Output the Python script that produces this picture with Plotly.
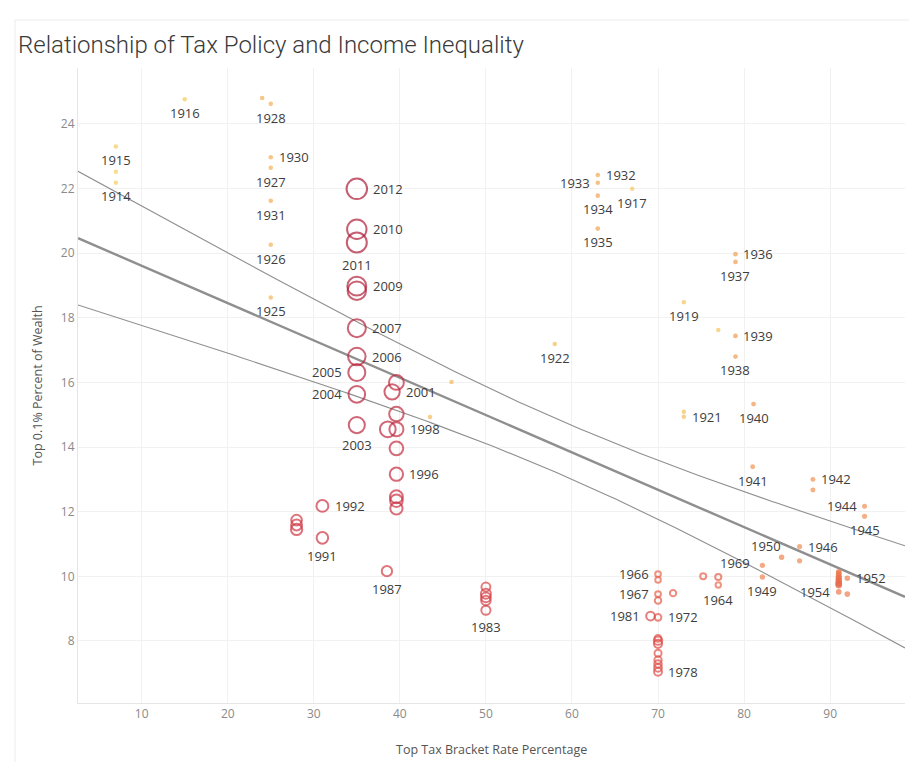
import numpy as np
import plotly.graph_objects as go

# ---------------- data ----------------
years = list(range(1913, 2013))

top_rate = [
    7, 7, 7, 15, 67, 77, 73, 73, 73, 58,            # 1913-1922
    43.5, 46, 25, 25, 25, 25, 24, 25, 25, 63,        # 1923-1932
    63, 63, 63, 79, 79, 79, 79, 81.1, 81, 88,        # 1933-1942
    88, 94, 94, 86.45, 86.45, 82.13, 82.13, 84.36, 91, 92,  # 1943-1952
    92, 91, 91, 91, 91, 91, 91, 91, 91, 91,          # 1953-1962
    91, 77, 70, 70, 70, 75.25, 77, 71.75, 70, 70,    # 1963-1972
    70, 70, 70, 70, 70, 70, 70, 70, 69.13, 50,       # 1973-1982
    50, 50, 50, 50, 38.5, 28, 28, 28, 31, 31,        # 1983-1992
    39.6, 39.6, 39.6, 39.6, 39.6, 39.6, 39.6, 39.6, 39.1, 38.6,  # 1993-2002
    35, 35, 35, 35, 35, 35, 35, 35, 35, 35,          # 2003-2012
]

wealth_share = [
    22.52, 22.18, 23.30, 24.76, 21.99, 17.62, 18.48, 15.09, 14.94, 17.19,  # 1913-1922
    14.93, 16.01, 18.63, 20.26, 22.64, 24.62, 24.80, 22.97, 21.62, 22.42,  # 1923-1932
    22.18, 21.78, 20.76, 19.97, 19.73, 16.80, 17.44, 15.33, 13.39, 13.00,  # 1933-1942
    12.67, 12.17, 11.86, 10.92, 10.48, 10.34, 9.98, 10.59, 10.14, 9.94,    # 1943-1952
    9.45, 9.52, 10.05, 10.10, 9.98, 9.90, 9.95, 9.85, 9.80, 9.76,          # 1953-1962
    9.73, 9.73, 9.89, 10.07, 9.45, 10.00, 9.98, 9.48, 9.25, 8.73,          # 1963-1972
    8.08, 7.62, 7.41, 7.29, 7.17, 7.05, 7.91, 8.01, 8.77, 9.67,            # 1973-1982
    8.95, 9.25, 9.35, 9.46, 10.16, 11.74, 11.59, 11.45, 11.19, 12.18,      # 1983-1992
    12.10, 12.34, 12.46, 13.16, 13.96, 14.55, 15.02, 16.00, 15.71, 14.55,  # 1993-2002
    14.68, 15.63, 16.31, 16.80, 17.68, 18.84, 18.98, 20.74, 20.33, 21.99,  # 2003-2012
]

label_below = [1914, 1915, 1916, 1917, 1919, 1922, 1925, 1926, 1927, 1928, 1931,
               1934, 1935, 1937, 1938, 1940, 1941, 1945, 1949, 1964, 1983, 1987,
               1991, 2003, 2011]
label_right = [1921, 1930, 1932, 1936, 1939, 1942, 1946, 1952, 1972, 1978, 1992,
               1996, 1998, 2001, 2006, 2007, 2009, 2010, 2012]
label_left = [1933, 1944, 1954, 1966, 1967, 1981, 2004, 2005]
label_top_left = [1950]
label_top_right = [1969]

title_text = "Relationship of Tax Policy and Income Inequality"
x_title = "Top Tax Bracket Rate Percentage"
y_title = "Top 0.1% Percent of Wealth"
x_ticks = [10, 20, 30, 40, 50, 60, 70, 80, 90]
y_ticks = [8, 10, 12, 14, 16, 18, 20, 22, 24]
open_from_year = 1964

# ---------------- styling helpers ----------------
W, H = 909, 762
ML, MR, MT, MB = 78, 4, 68, 59
X_RANGE = [2.6, 98.7]
Y_RANGE = [6.08, 25.73]

colorscale = [
    [0.0, "#f6cf5e"], [0.18, "#f2aa55"], [0.38, "#ef8250"],
    [0.55, "#e6604a"], [0.70, "#d84446"], [0.82, "#c92f40"], [1.0, "#ab1b36"],
]

y0, y1 = years[0], years[-1]
def size_for(y):
    t = (y - y0) / (y1 - y0)
    return 4.5 + 17.5 * t ** 3

def label_annotation(yr, xv, yv):
    r = size_for(yr) / 2.0
    base = dict(x=xv, y=yv, xref="x", yref="y", text=str(yr), showarrow=False,
                font=dict(family="Open Sans", size=13, color="#3d3d3d"))
    if yr in label_below:
        base.update(xanchor="center", yanchor="middle", yshift=-(r + 11.5))
    elif yr in label_right:
        base.update(xanchor="left", yanchor="middle", xshift=r + 3.5)
    elif yr in label_left:
        base.update(xanchor="right", yanchor="middle", xshift=-(r + 3.5))
    elif yr in label_top_left:
        base.update(xanchor="right", yanchor="middle", xshift=1, yshift=11)
    elif yr in label_top_right:
        base.update(xanchor="left", yanchor="middle", xshift=0, yshift=14)
    else:
        return None
    return base

fig = go.Figure()

# ---------------- trend line + 95% confidence bands ----------------
xa = np.array(top_rate, dtype=float)
ya = np.array(wealth_share, dtype=float)
n = len(xa)
slope, intercept = np.polyfit(xa, ya, 1)
resid = ya - (slope * xa + intercept)
s = np.sqrt(np.sum(resid ** 2) / (n - 2))
xbar = xa.mean()
sxx = np.sum((xa - xbar) ** 2)
tval = 1.9845
xs = np.linspace(X_RANGE[0], X_RANGE[1], 200)
fit = slope * xs + intercept
half = tval * s * np.sqrt(1.0 / n + (xs - xbar) ** 2 / sxx)

for yy, w in [(fit + half, 1.1), (fit - half, 1.1), (fit, 2.4)]:
    fig.add_trace(go.Scatter(
        x=xs, y=yy, mode="lines",
        line=dict(color="#8f8f8f", width=w),
        hoverinfo="skip", showlegend=False,
    ))

# ---------------- points ----------------
for is_open in (False, True):
    sel = [i for i, y in enumerate(years) if (y >= open_from_year) == is_open]
    fig.add_trace(go.Scatter(
        x=[top_rate[i] for i in sel],
        y=[wealth_share[i] for i in sel],
        mode="markers",
        marker=dict(
            symbol="circle-open" if is_open else "circle",
            size=[size_for(years[i]) - (1.5 if is_open else 0) for i in sel],
            color=[years[i] for i in sel],
            colorscale=colorscale, cmin=y0, cmax=y1,
            line=dict(width=2 if is_open else 0),
            showscale=False,
        ),
        customdata=[years[i] for i in sel],
        hovertemplate="Year %{customdata}<br>Top rate %{x}%<br>Top 0.1%% share %{y}<extra></extra>",
        showlegend=False,
        cliponaxis=False,
    ))

annotations = []
for yr, xv, yv in zip(years, top_rate, wealth_share):
    a = label_annotation(yr, xv, yv)
    if a is not None:
        annotations.append(a)

annotations += [
    dict(text=x_title, xref="paper", yref="paper", x=0.5, y=0, yshift=-46,
         showarrow=False, xanchor="center", yanchor="middle",
         font=dict(family="Open Sans", size=12.5, color="#555555")),
    dict(text=y_title, xref="paper", yref="paper", x=0, y=0.5, xshift=-41,
         showarrow=False, xanchor="center", yanchor="middle", textangle=-90,
         font=dict(family="Open Sans", size=12.5, color="#555555")),
]

pw = W - ML - MR
ph = H - MT - MB

fig.update_layout(
    width=W, height=H, autosize=False,
    margin=dict(l=ML, r=MR, t=MT, b=MB, pad=0),
    paper_bgcolor="white", plot_bgcolor="white",
    title=dict(text=title_text, x=18 / W, xref="container", xanchor="left",
               y=1 - 45 / H, yref="container", yanchor="middle",
               font=dict(family="Roboto", size=24, color="#3a3a3a", weight=300)),
    xaxis=dict(range=X_RANGE, tickvals=x_ticks, showgrid=True, gridcolor="#f1f1f1",
               gridwidth=1, zeroline=False, showline=True, linecolor="#e6e6e6",
               ticks="", tickfont=dict(family="Open Sans", size=12, color="#8a8a8a")),
    yaxis=dict(range=Y_RANGE, tickvals=y_ticks, showgrid=True, gridcolor="#f1f1f1",
               gridwidth=1, zeroline=False, showline=True, linecolor="#e6e6e6",
               ticks="", tickfont=dict(family="Open Sans", size=12, color="#8a8a8a")),
    annotations=annotations,
    shapes=[
        dict(type="line", xref="paper", yref="paper",
             x0=(15 - ML) / pw, x1=(15 - ML) / pw, y0=(H - MT - H) / ph - 0.01, y1=(H - MT - 11) / ph,
             line=dict(color="#ececec", width=1)),
        dict(type="line", xref="paper", yref="paper",
             x0=(15 - ML) / pw, x1=(W - ML) / pw, y0=(H - MT - 11) / ph, y1=(H - MT - 11) / ph,
             line=dict(color="#ececec", width=1)),
    ],
    hovermode="closest",
)

fig.write_html("out.html", config={"displayModeBar": False},
               post_script="document.body.style.margin='0';document.body.style.overflow='hidden';")
